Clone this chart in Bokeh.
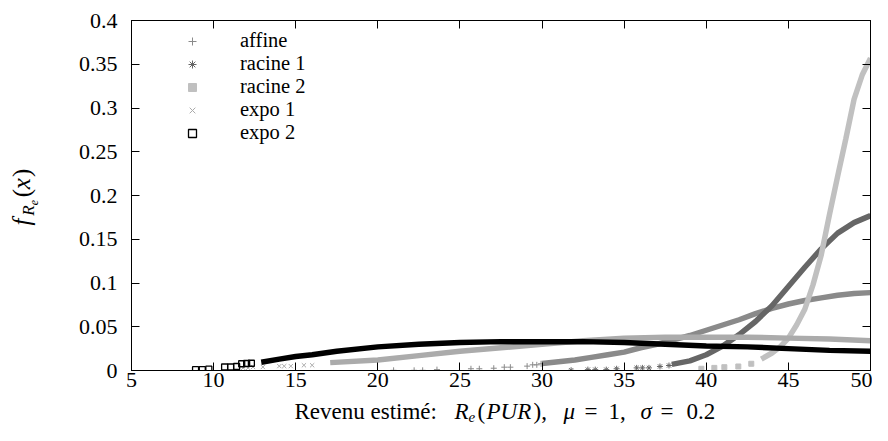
import math
from bokeh.plotting import figure
from bokeh.layouts import row, column
from bokeh.models import LinearAxis, Legend, LegendItem, FixedTicker, Range1d, ColumnDataSource
from bokeh.core.properties import value
from bokeh.embed import file_html
from bokeh.resources import INLINE

# ---------------- data ----------------
x_ticks = [5, 10, 15, 20, 25, 30, 35, 40, 45, 50]
x_tick_labels = ["5", "10", "15", "20", "25", "30", "35", "40", "45", "50"]
y_ticks = [0, 0.05, 0.1, 0.15, 0.2, 0.25, 0.3, 0.35, 0.4]
y_tick_labels = ["0", "0.05", "0.1", "0.15", "0.2", "0.25", "0.3", "0.35", "0.4"]

series_names = ["affine", "racine 1", "racine 2", "expo 1", "expo 2"]

# sparse isolated markers (left tails)
affine_pts_x = [20.96, 22.21, 22.73, 23.60, 25.67, 26.18, 27.06, 27.70, 28.07, 29.09, 29.43, 29.68, 29.94]
affine_pts_y = [0.0002, 0.0002, 0.0002, 0.001, 0.002, 0.002, 0.0026, 0.0038, 0.0038, 0.005, 0.0065, 0.0065, 0.0077]
racine1_pts_x = [31.77, 32.79, 33.24, 33.91, 34.54, 35.76, 36.11, 36.51, 37.18, 37.73]
racine1_pts_y = [0.0003, 0.001, 0.001, 0.001, 0.002, 0.003, 0.003, 0.003, 0.0046, 0.0057]
racine2_pts_x = [39.70, 40.49, 41.10, 41.95, 42.74]
racine2_pts_y = [0.002, 0.003, 0.0038, 0.0046, 0.0077]
expo1_pts_x = [11.8, 12.1, 12.4, 13.0, 14.0, 14.3, 14.7, 15.5, 16.0]
expo1_pts_y = [0.003, 0.003, 0.004, 0.004, 0.005, 0.005, 0.005, 0.006, 0.006]
expo2_pts_x = [8.90, 9.31, 9.71, 10.67, 11.04, 11.40, 11.71, 12.01, 12.30]
expo2_pts_y = [0.001, 0.001, 0.0015, 0.004, 0.004, 0.0046, 0.0077, 0.008, 0.0083]

# dense parts (appear as thick bands)
affine_x = [30, 31, 32, 33, 34, 35, 36, 37, 38, 39, 40, 41, 42, 43, 44, 45, 46, 47, 48, 49, 50]
affine_y = [0.008, 0.010, 0.012, 0.015, 0.018, 0.021, 0.026, 0.030, 0.035, 0.040, 0.046, 0.052,
            0.058, 0.065, 0.071, 0.076, 0.080, 0.083, 0.086, 0.088, 0.089]
racine1_x = [37.9, 39, 40, 41, 42, 43, 44, 45, 46, 47, 48, 49, 50]
racine1_y = [0.007, 0.011, 0.018, 0.028, 0.041, 0.056, 0.074, 0.096, 0.118, 0.139, 0.157, 0.169, 0.177]
racine2_x = [43.35, 44, 44.5, 45, 45.5, 46, 46.5, 47, 47.5, 48, 48.5, 49, 49.5, 50]
racine2_y = [0.013, 0.020, 0.027, 0.037, 0.052, 0.070, 0.098, 0.132, 0.178, 0.222, 0.265, 0.31, 0.338, 0.357]
expo1_x = [17.1, 20, 22.5, 25, 27.5, 30, 32.5, 35, 37.5, 40, 42.5, 45, 47.5, 50]
expo1_y = [0.009, 0.012, 0.017, 0.022, 0.026, 0.030, 0.034, 0.037, 0.038, 0.038, 0.038, 0.037, 0.036, 0.034]
expo2_x = [12.9, 14, 15, 16, 17.5, 20, 22.5, 25, 27.5, 30, 32.5, 35, 37.5, 40, 42.5, 45, 47.5, 50]
expo2_y = [0.0095, 0.013, 0.016, 0.018, 0.022, 0.027, 0.030, 0.032, 0.033, 0.033, 0.033, 0.032,
           0.030, 0.028, 0.027, 0.025, 0.023, 0.022]

# ---------------- styles / layout ----------------
FONT = "Liberation Serif, DejaVu Serif, serif"
TICK_FS = "22px"
LEG_FS = "20.5px"
colors = ["#8a8a8a", "#666666", "#c0c0c0", "#ababab", "#000000"]
markers = ["cross", "asterisk", "square", "x", "square"]

TOTAL_W, TOTAL_H = 872, 425
YLAB_W = 60          # strip holding the rotated y title
MAIN_H = 398         # main figure height; x title strip below
XLAB_H = TOTAL_H - MAIN_H

# main frame: left 131, right 870, top 20, bottom 370 in the picture
p = figure(width=TOTAL_W - YLAB_W, height=MAIN_H, x_range=Range1d(5, 50), y_range=Range1d(0, 0.4),
           output_backend="svg", toolbar_location=None,
           min_border_left=131 - YLAB_W, min_border_right=2, min_border_top=20,
           min_border_bottom=MAIN_H - 370)
p.xgrid.visible = False
p.ygrid.visible = False
p.outline_line_color = "black"
p.outline_line_width = 1
p.background_fill_color = "white"
p.border_fill_color = "white"


def style_axis(ax, ticks, labels, show):
    ax.ticker = FixedTicker(ticks=ticks)
    ax.major_tick_in = 8
    ax.major_tick_out = 0
    ax.minor_tick_line_color = None
    ax.axis_line_color = "black"
    ax.major_tick_line_color = "black"
    ax.major_tick_line_width = 1
    if show:
        ax.major_label_overrides = {t: s for t, s in zip(ticks, labels)}
        ax.major_label_text_font = FONT
        ax.major_label_text_font_size = TICK_FS
        ax.major_label_text_color = "black"
    else:
        ax.major_label_overrides = {t: "" for t in ticks}
        ax.major_label_text_font_size = "0px"
        ax.major_label_standoff = 0


style_axis(p.xaxis[0], x_ticks, x_tick_labels, True)
style_axis(p.yaxis[0], y_ticks, y_tick_labels, True)
p.xaxis[0].major_label_standoff = 2
p.yaxis[0].major_label_standoff = 14

top_ax = LinearAxis()
right_ax = LinearAxis()
style_axis(top_ax, x_ticks, x_tick_labels, False)
style_axis(right_ax, y_ticks, y_tick_labels, False)
p.add_layout(top_ax, "above")
p.add_layout(right_ax, "right")

pts = [(affine_pts_x, affine_pts_y), (racine1_pts_x, racine1_pts_y), (racine2_pts_x, racine2_pts_y),
       (expo1_pts_x, expo1_pts_y), (expo2_pts_x, expo2_pts_y)]
lines = [(affine_x, affine_y), (racine1_x, racine1_y), (racine2_x, racine2_y),
         (expo1_x, expo1_y), (expo2_x, expo2_y)]

# one single-entry legend per series so that the row pitch matches the reference
legend_bottoms = [318, 295, 272, 249, 226]   # px from frame bottom

for i, name in enumerate(series_names):
    c = colors[i]
    lx, ly = lines[i]
    p.line(lx, ly, line_color=c, line_width=5.5)
    px, py = pts[i]
    if i == 4:
        r = p.scatter(px, py, marker="square", size=6, fill_color=None, line_color=c, line_width=1.3)
    elif i == 2:
        r = p.scatter(px, py, marker="square", size=5, fill_color=c, line_color=c)
    else:
        r = p.scatter(px, py, marker=markers[i], size=6, line_color=c, line_width=1)
    lg = Legend(items=[LegendItem(label=name, renderers=[r])], location=(51, legend_bottoms[i]))
    lg.background_fill_alpha = 0
    lg.border_line_color = None
    lg.padding = 0
    lg.margin = 0
    lg.spacing = 0
    lg.glyph_width = 20
    lg.glyph_height = 20
    lg.label_height = 20
    lg.label_standoff = 38
    lg.label_text_font = FONT
    lg.label_text_font_size = LEG_FS
    lg.label_text_color = "black"
    p.add_layout(lg)


def text_strip(w, h):
    f = figure(width=w, height=h, x_range=Range1d(0, w), y_range=Range1d(0, h),
               output_backend="svg", toolbar_location=None, min_border=0, title=None,
               x_axis_location=None, y_axis_location=None)
    f.xgrid.visible = False
    f.ygrid.visible = False
    f.outline_line_color = None
    f.background_fill_color = "white"
    f.border_fill_color = "white"
    return f


BASE_FIX = 0.33   # observed offset (in em) of the alphabetic baseline in this renderer


def add_pieces(f, pieces, x0, y_top, h, angle):
    # pieces: (text, size_px, italic, X, Y) = intended baseline start in picture pixels
    rot = abs(angle) > 0.1
    xs, ys = [], []
    for t in pieces:
        d = BASE_FIX * t[1]
        if rot:
            xs.append(t[3] - x0 - d)
            ys.append(h - (t[4] - y_top))
        else:
            xs.append(t[3] - x0)
            ys.append(h - (t[4] - y_top) + d)
    src = ColumnDataSource(dict(
        x=xs, y=ys,
        text=[t[0] for t in pieces],
        size=["%gpx" % t[1] for t in pieces],
        style=["italic" if t[2] else "normal" for t in pieces]))
    f.text(x="x", y="y", text="text", source=src, angle=angle,
           text_font=value(FONT), text_font_size="size", text_font_style="style",
           text_align="left", text_baseline="alphabetic", text_color="black")


# x title: Revenu estimé: R_e(PUR), μ = 1, σ = 0.2
BL = 419
XFS = 23
xt = [("Revenu estimé:", XFS, False, 294, BL),
      ("R", XFS, True, 454, BL),
      ("e", 15, True, 468, BL + 2),
      ("(", XFS, False, 477, BL),
      ("PUR", XFS, True, 486, BL),
      ("),", XFS, False, 533, BL),
      ("μ", XFS, True, 563, BL),
      ("=", XFS, False, 584, BL),
      ("1,", XFS, False, 608, BL),
      ("σ", XFS, True, 640, BL),
      ("=", XFS, False, 660, BL),
      ("0.2", XFS, False, 686, BL)]
xlab = text_strip(TOTAL_W, XLAB_H)
add_pieces(xlab, xt, 0, MAIN_H, XLAB_H, 0.0)

# y title: f_{R_e}(x), rotated (reads bottom to top)
yt = [("f", 25, True, 29, 233),
      ("R", 17, True, 34, 222),
      ("e", 12, True, 37, 210),
      ("(", 25, False, 29, 201),
      ("x", 25, True, 29, 192),
      (")", 25, False, 29, 178)]
ylab = text_strip(YLAB_W, MAIN_H)
add_pieces(ylab, yt, 0, 0, MAIN_H, math.pi / 2)

layout = column(row(ylab, p, spacing=0), xlab, spacing=0)
open("out.html", "w").write(file_html(layout, INLINE))
